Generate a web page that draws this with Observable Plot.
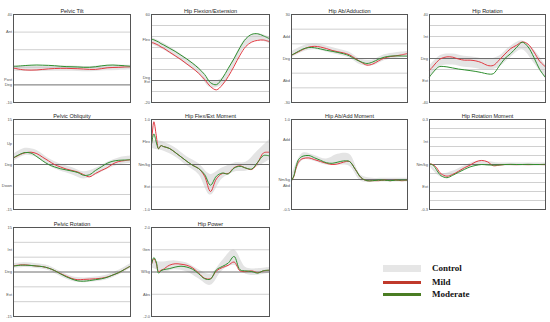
<!DOCTYPE html>
<html>
<head>
<meta charset="utf-8">
<script src="https://cdn.jsdelivr.net/npm/d3@7"></script>
<script src="https://cdn.jsdelivr.net/npm/@observablehq/plot@0.6"></script>
<style>
  html, body { margin: 0; padding: 0; background: #fff; }
  #chart { position: relative; width: 550px; height: 322px; overflow: hidden; font-family: "Liberation Sans", Arial, sans-serif; }
  .panel { position: absolute; }
  .legend-sw { position: absolute; }
  .legend-tx { position: absolute; font-family: "Liberation Serif", "Times New Roman", serif; font-weight: bold; font-size: 9px; color: #111; line-height: 10px; }
</style>
</head>
<body>
<div id="chart"></div>
<script>
// ---- gait cycle samples (% of cycle) ----
const pct = [0,2,4,6,8,10,15,20,25,30,35,40,45,50,55,60,65,70,75,80,85,90,95,100];
const ctrlPct = [0,10,20,30,40,50,60,70,80,90,100];
const legendLabels = ["Control","Mild","Moderate"];

// ---- Pelvic Tilt ----
const tiltMild = [9.5,9.3,9.0,8.8,8.6,8.5,8.4,8.5,8.8,9.1,9.3,9.4,9.4,9.3,9.2,9.0,8.8,8.8,9.2,9.7,9.9,10.0,10.2,10.3];
const tiltModerate = [10.6,10.6,10.7,10.8,10.9,11,11.2,11.3,11.2,11.1,10.9,10.6,10.4,10.3,10.2,10,10,10.3,10.8,11.2,11.3,11.1,10.9,10.6];
const tiltCtrlLo = [7.8,7.6,7.6,7.8,7.8,7.7,7.5,7.6,8.0,8.2,8.4];
const tiltCtrlHi = [10.8,10.6,10.6,10.8,10.8,10.7,10.5,10.6,11.0,11.2,11.2];
const tiltGrid = [10,20,30];
const tiltTicks = [40,30,3,0,-10];
const tiltTickText = ["40","Ant","Post","Deg","-10"];

// ---- Hip Flexion/Extension ----
const hipFlexMild = [34.5,34,33,32,30.5,29.5,26,22.5,19,15,11,6.5,1,-5.5,-8.5,-4,3.5,13,23,31,35,36.5,36.8,35.3];
const hipFlexModerate = [37.5,37,36,35,33.5,32.5,29.5,26.5,23,19.5,15.5,11,5.5,-2,-3.8,2,11,20,30,38,42,42.5,40.5,38];
const hipFlexCtrlLo = [33,28,21.5,14,6,-6.5,-4,13,31,36.5,33.5];
const hipFlexCtrlHi = [39,34,27.5,20,12,-0.5,2,20,38,42.5,39.5];
const hipFlexGrid = [-10,10,20,30,40,50];
const hipFlexTicks = [60,37,2.5,-1.5,-20];
const hipFlexTickText = ["60","Flex","Deg","Ext","-20"];

// ---- Hip Ab/Adduction ----
const hipAbdMild = [2.3,3,3.8,4.6,5.4,6.2,7.8,8.3,7.8,6.8,5.5,4.6,3.8,2.5,0,-2.5,-4.5,-3.8,-1.6,0.3,1.3,1.8,2.5,3.4];
const hipAbdModerate = [2.3,3.1,4,4.9,5.7,6.5,7.5,7.3,6.5,5.6,4.9,4.1,3.2,1.8,-0.5,-2.3,-3.4,-2.4,-0.5,0.9,1.6,1.8,1.7,1.6];
const hipAbdCtrlLo = [0.5,4.5,6,4.5,2.5,0.3,-4.5,-5,-1.5,0,0.8];
const hipAbdCtrlHi = [4.5,8.5,10,8.5,6.5,4.3,-0.5,-1,2.5,4,4.8];
const hipAbdGrid = [-20,-10,10,20];
const hipAbdTicks = [30,15,0,-15,-30];
const hipAbdTickText = ["30","Add","Deg","Abd","-30"];

// ---- Hip Rotation ----
const hipRotMild = [-10.6,-8.5,-6,-3.5,-1.5,0,1.5,1.2,-0.5,-1.5,-1.5,-2.2,-3.8,-6.3,-6.3,-1.5,4,9,12,15,13,6,-2.5,-7.6];
const hipRotModerate = [-16.7,-14,-11.5,-9.2,-7.6,-7.2,-7.6,-8.6,-9.6,-10.3,-11,-11.8,-12.8,-14,-13.8,-7,0,4.5,10,14.8,10.5,1,-10,-17.3];
const hipRotCtrlLo = [-17,-7,-6,-8,-9,-11,-8,1,8,-4,-18];
const hipRotCtrlHi = [-7,3,4,2,1,-1,2,11,16,8,-6];
const hipRotGrid = [-30,-20,-10,10,20,30];
const hipRotTicks = [40,20,0,-20,-40];
const hipRotTickText = ["40","Int","Deg","Ext","-40"];

// ---- Pelvic Obliquity ----
const oblMild = [2.2,2.6,3.0,3.4,3.7,3.9,4.1,3.6,2.4,1.2,0,-0.8,-1.5,-2,-2.5,-3.4,-4.1,-3,-2,-1.1,0.2,1.0,1.3,1.6];
const oblModerate = [2.2,2.7,3.1,3.5,3.8,4,3.8,2.6,1.2,0,-0.8,-1.4,-1.8,-2.2,-2.7,-3.6,-3.4,-2,-0.8,0.4,1.1,1.4,1.5,1.6];
const oblCtrlLo = [1,3,2.3,-0.4,-2.2,-3.4,-4.8,-3.7,-1.7,-0.2,0.4];
const oblCtrlHi = [3.4,5.4,4.7,2,0.2,-1,-2.4,-1.3,0.7,2.2,2.8];
const oblGrid = [-10,10];
const oblTicks = [15,7,0,-7,-15];
const oblTickText = ["15","Up","Deg","Down","-15"];

// ---- Hip Flex/Ext Moment ----
const flexMomMild = [0.45,0.95,0.65,0.35,0.42,0.40,0.36,0.27,0.17,0.07,-0.02,-0.09,-0.26,-0.6,-0.32,-0.2,-0.2,-0.07,-0.03,-0.08,-0.11,0.04,0.26,0.27];
const flexMomModerate = [0.45,0.68,0.5,0.35,0.42,0.40,0.36,0.27,0.17,0.07,-0.02,-0.09,-0.22,-0.46,-0.26,-0.19,-0.21,-0.08,-0.04,-0.08,-0.1,0.05,0.2,0.19];
const flexMomCtrlLo = [0.35,0.3,0.17,-0.03,-0.22,-0.68,-0.32,-0.17,-0.15,-0.05,0.1];
const flexMomCtrlHi = [0.55,0.5,0.37,0.17,0.02,-0.22,-0.08,0.03,0.05,0.3,0.55];
const flexMomGrid = [-0.5,0.5];
const flexMomTicks = [1,0.5,0,-0.5,-1];
const flexMomTickText = ["1.0","Flex","Nm/kg","Ext","-1.0"];

// ---- Hip Ab/Add Moment ----
const abdMomMild = [-0.02,0.05,0.19,0.29,0.33,0.35,0.36,0.33,0.3,0.27,0.25,0.26,0.29,0.3,0.17,0.03,-0.02,-0.02,-0.02,-0.01,-0.02,-0.01,-0.02,-0.01];
const abdMomModerate = [-0.02,0.06,0.22,0.33,0.37,0.39,0.40,0.36,0.32,0.28,0.27,0.29,0.31,0.3,0.17,0.03,-0.02,-0.02,-0.01,-0.01,-0.02,-0.01,-0.01,-0.01];
const abdMomCtrlLo = [-0.05,0.32,0.3,0.24,0.24,0.22,-0.03,-0.04,-0.04,-0.04,-0.04];
const abdMomCtrlHi = [0.05,0.44,0.4,0.34,0.42,0.42,0.07,0.02,0.02,0.02,0.02];
const abdMomGrid = [0.5];
const abdMomTicks = [1,0.66,0,-0.11,-0.5];
const abdMomTickText = ["1.0","Add","Nm/kg","Abd","-0.5"];

// ---- Hip Rotation Moment ----
const rotMomMild = [0.004,0.002,-0.006,-0.02,-0.044,-0.062,-0.078,-0.066,-0.045,-0.022,-0.004,0.018,0.027,0.018,-0.008,-0.004,0,0,-0.001,0,-0.001,0,0,-0.001];
const rotMomModerate = [0.004,0,-0.012,-0.035,-0.058,-0.075,-0.088,-0.072,-0.052,-0.033,-0.016,-0.006,0,-0.003,-0.004,-0.003,0,0.001,0,0,0.001,0,0,0.001];
const rotMomCtrlLo = [-0.01,-0.085,-0.075,-0.035,-0.005,0,-0.01,-0.01,-0.01,-0.01,-0.01];
const rotMomCtrlHi = [0.01,-0.06,-0.045,-0.01,0.02,0.02,0.01,0.01,0.01,0.01,0.01];
const rotMomGrid = [-0.24,-0.18,-0.12,-0.06,0.06,0.12,0.18,0.24];
const rotMomTicks = [0.3,0.15,0,-0.15,-0.3];
const rotMomTickText = ["0.3","Int","Nm/kg","Ext","-0.3"];

// ---- Pelvic Rotation ----
const pelRotMild = [2.1,2.2,2.3,2.4,2.4,2.4,2.2,2.0,1.8,1.3,0.5,-0.5,-1.4,-2.2,-2.6,-2.5,-2.4,-2.3,-2.1,-1.7,-1.0,-0.2,0.9,2.0];
const pelRotModerate = [2.0,2.1,2.2,2.3,2.3,2.3,2.2,2.0,1.8,1.3,0.5,-0.6,-1.6,-2.4,-3.0,-3.1,-2.9,-2.6,-2.3,-1.8,-1.0,-0.2,0.9,2.0];
const pelRotCtrlLo = [1.2,1.5,1.2,0.5,-1.4,-3.1,-3.6,-3.3,-2.6,-1,1.2];
const pelRotCtrlHi = [2.8,3.1,2.8,2.1,0.2,-1.5,-2,-1.7,-1,0.6,2.8];
const pelRotGrid = [-10,-5,5,10];
const pelRotTicks = [15,7.5,0,-7.5,-15];
const pelRotTickText = ["15","Int","Deg","Ext","-15"];

// ---- Hip Power ----
const powerMild = [0.35,0.6,0.4,0.02,0.08,0.12,0.3,0.37,0.35,0.3,0.18,-0.05,-0.28,-0.3,0.05,0.2,0.3,0.45,0.05,0.02,0.05,-0.03,0.05,0.08];
const powerModerate = [0.35,0.65,0.45,-0.05,0.05,0.1,0.15,0.22,0.26,0.22,0.12,-0.08,-0.3,-0.32,0.1,0.25,0.4,0.7,0.1,0.05,0.02,-0.05,0.06,0.08];
const powerCtrlLo = [0.2,0,0.1,0,-0.3,-0.6,0.05,0.3,-0.1,-0.15,-0.05];
const powerCtrlHi = [0.5,0.45,0.5,0.4,0.1,-0.1,0.5,1.0,0.2,0.15,0.2];
const powerGrid = [-1,1];
const powerTicks = [2,1,0,-1,-2];
const powerTickText = ["2.0","Gen","W/kg","Abs","-2.0"];

// ---- panel table built from the arrays ----
const panels = [
  {title:"Pelvic Tilt", col:0, row:0, domain:[-10,40], grid:tiltGrid, ticks:tiltTicks, tickText:tiltTickText, mild:tiltMild, mod:tiltModerate, lo:tiltCtrlLo, hi:tiltCtrlHi},
  {title:"Hip Flexion/Extension", col:1, row:0, domain:[-20,60], grid:hipFlexGrid, ticks:hipFlexTicks, tickText:hipFlexTickText, mild:hipFlexMild, mod:hipFlexModerate, lo:hipFlexCtrlLo, hi:hipFlexCtrlHi},
  {title:"Hip Ab/Adduction", col:2, row:0, domain:[-30,30], grid:hipAbdGrid, ticks:hipAbdTicks, tickText:hipAbdTickText, mild:hipAbdMild, mod:hipAbdModerate, lo:hipAbdCtrlLo, hi:hipAbdCtrlHi},
  {title:"Hip Rotation", col:3, row:0, domain:[-40,40], grid:hipRotGrid, ticks:hipRotTicks, tickText:hipRotTickText, mild:hipRotMild, mod:hipRotModerate, lo:hipRotCtrlLo, hi:hipRotCtrlHi},
  {title:"Pelvic Obliquity", col:0, row:1, domain:[-15,15], grid:oblGrid, ticks:oblTicks, tickText:oblTickText, mild:oblMild, mod:oblModerate, lo:oblCtrlLo, hi:oblCtrlHi},
  {title:"Hip Flex/Ext Moment", col:1, row:1, domain:[-1,1], grid:flexMomGrid, ticks:flexMomTicks, tickText:flexMomTickText, mild:flexMomMild, mod:flexMomModerate, lo:flexMomCtrlLo, hi:flexMomCtrlHi},
  {title:"Hip Ab/Add Moment", col:2, row:1, domain:[-0.5,1], grid:abdMomGrid, ticks:abdMomTicks, tickText:abdMomTickText, mild:abdMomMild, mod:abdMomModerate, lo:abdMomCtrlLo, hi:abdMomCtrlHi},
  {title:"Hip Rotation Moment", col:3, row:1, domain:[-0.3,0.3], grid:rotMomGrid, ticks:rotMomTicks, tickText:rotMomTickText, mild:rotMomMild, mod:rotMomModerate, lo:rotMomCtrlLo, hi:rotMomCtrlHi},
  {title:"Pelvic Rotation", col:0, row:2, domain:[-15,15], grid:pelRotGrid, ticks:pelRotTicks, tickText:pelRotTickText, mild:pelRotMild, mod:pelRotModerate, lo:pelRotCtrlLo, hi:pelRotCtrlHi},
  {title:"Hip Power", col:1, row:2, domain:[-2,2], grid:powerGrid, ticks:powerTicks, tickText:powerTickText, mild:powerMild, mod:powerModerate, lo:powerCtrlLo, hi:powerCtrlHi}
];

// layout (frame boxes)
const colLeft = [13, 151, 291, 429];
const colWidth = [117, 118, 116, 116];
const rowTop = [14, 119, 227];
const rowHeight = [88, 90, 89];
const M = {left: 13, right: 3, top: 9, bottom: 4};

const RED = "#e23a42";
const GREEN = "#2f8f2f";
const chart = document.getElementById("chart");

for (const p of panels) {
  const data = pct.map((x, i) => ({x, mild: p.mild[i], mod: p.mod[i]}));
  const ctrl = ctrlPct.map((x, i) => ({x, lo: p.lo[i], hi: p.hi[i]}));
  const ticks = p.ticks.map((v, i) => ({v, t: p.tickText[i]}));
  const w = colWidth[p.col] + M.left + M.right;
  const h = rowHeight[p.row] + M.top + M.bottom;
  const svg = Plot.plot({
    width: w, height: h,
    marginLeft: M.left, marginRight: M.right, marginTop: M.top, marginBottom: M.bottom,
    x: {domain: [0, 100], axis: null},
    y: {domain: p.domain, axis: null},
    style: {background: "transparent", overflow: "visible", fontFamily: "'Liberation Sans', Arial, sans-serif"},
    marks: [
      Plot.areaY(ctrl, {x: "x", y1: "lo", y2: "hi", fill: "#e4e4e4", curve: "catmull-rom"}),
      Plot.ruleY(p.grid, {stroke: "#c4c4c4", strokeWidth: 0.8}),
      Plot.ruleY([0], {stroke: "#6e6e6e", strokeWidth: 1}),
      Plot.lineY(data, {x: "x", y: "mild", stroke: RED, strokeWidth: 1, curve: "catmull-rom"}),
      Plot.lineY(data, {x: "x", y: "mod", stroke: GREEN, strokeWidth: 1, curve: "catmull-rom"}),
      Plot.frame({stroke: "#555", strokeWidth: 1}),
      Plot.text(ticks, {y: "v", text: "t", frameAnchor: "left", textAnchor: "end", dx: -1.5, fontSize: 4, fill: "#555"}),
      Plot.text([p.title], {text: d => d, frameAnchor: "top", lineAnchor: "bottom", dy: -1.5, fontSize: 5.5, fill: "#222"})
    ]
  });
  const wrap = document.createElement("div");
  wrap.className = "panel";
  wrap.style.left = (colLeft[p.col] - M.left) + "px";
  wrap.style.top = (rowTop[p.row] - M.top) + "px";
  wrap.appendChild(svg);
  chart.appendChild(wrap);
}

// legend
const legendStyles = [
  {fill: "#e6e6e6", top: 265, h: 7},
  {fill: "#c0392b", top: 281, h: 3},
  {fill: "#4a7d23", top: 293, h: 3}
];
legendLabels.forEach((lab, i) => {
  const s = legendStyles[i];
  const sw = document.createElement("div");
  sw.className = "legend-sw";
  sw.style.left = "383px"; sw.style.width = "38px";
  sw.style.top = s.top + "px"; sw.style.height = s.h + "px";
  sw.style.background = s.fill;
  chart.appendChild(sw);
  const tx = document.createElement("div");
  tx.className = "legend-tx";
  tx.style.left = "432px";
  tx.style.top = (s.top + s.h / 2 - 5.5) + "px";
  tx.textContent = lab;
  chart.appendChild(tx);
});
</script>
</body>
</html>
